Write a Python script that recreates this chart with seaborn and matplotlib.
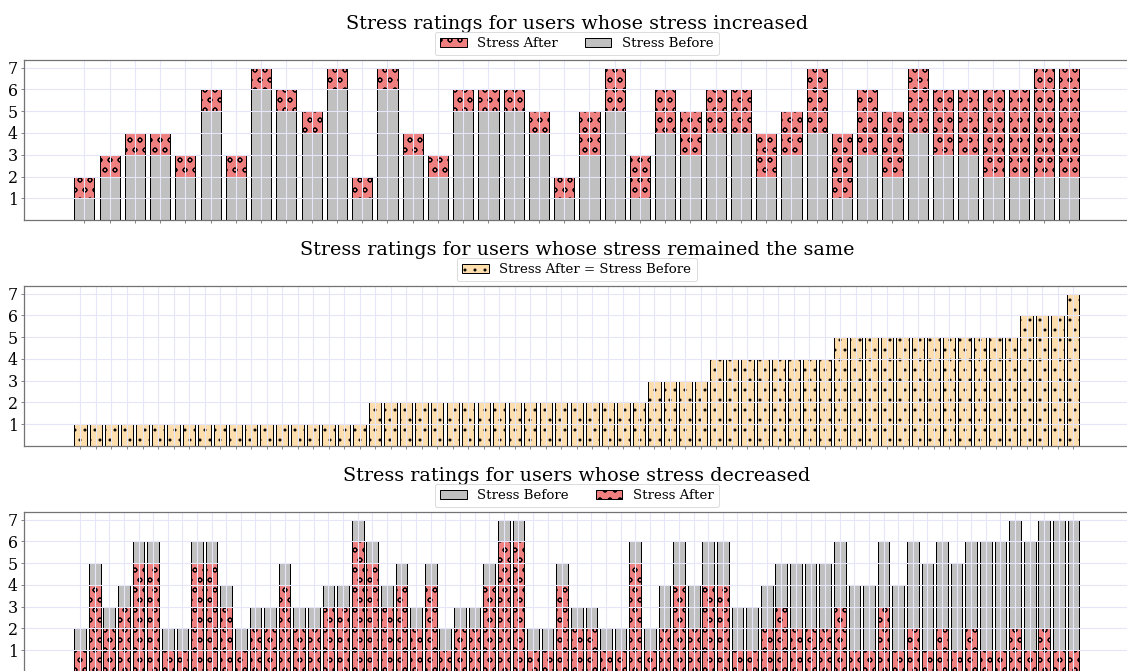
import numpy as np
import matplotlib
matplotlib.use("Agg")
import matplotlib.pyplot as plt
import seaborn as sns

plt.rcParams['font.family'] = 'serif'
plt.rcParams['hatch.linewidth'] = 1.2

# users whose stress increased
inc_before = [1, 2, 3, 3, 2, 5, 2, 6, 5, 4, 6, 1, 6, 3, 2, 5, 5, 5, 4, 1,
              3, 5, 1, 4, 3, 4, 4, 2, 3, 4, 1, 3, 2, 4, 3, 3, 2, 2, 2, 2]
inc_after = [2, 3, 4, 4, 3, 6, 3, 7, 6, 5, 7, 2, 7, 4, 3, 6, 6, 6, 5, 2,
             5, 7, 3, 6, 5, 6, 6, 4, 5, 7, 4, 6, 5, 7, 6, 6, 6, 6, 7, 7]

# users whose stress stayed the same
same_rating = [1, 1, 1, 1, 1, 1, 1, 1, 1, 1, 1, 1, 1, 1, 1, 1, 1, 1, 1,
               2, 2, 2, 2, 2, 2, 2, 2, 2, 2, 2, 2, 2, 2, 2, 2, 2, 2,
               3, 3, 3, 3,
               4, 4, 4, 4, 4, 4, 4, 4,
               5, 5, 5, 5, 5, 5, 5, 5, 5, 5, 5, 5,
               6, 6, 6,
               7]

# users whose stress decreased
dec_before = [2, 5, 3, 4, 6, 6, 2, 2, 6, 6, 4, 2, 3, 3, 5, 3, 3, 4, 4, 7,
              6, 4, 5, 3, 5, 2, 3, 3, 5, 7, 7, 2, 2, 5, 3, 3, 2, 2, 6, 2,
              4, 6, 4, 6, 6, 3, 3, 4, 5, 5, 5, 5, 6, 4, 4, 6, 4, 6, 5, 6,
              5, 6, 6, 6, 7, 6, 7, 7, 7]
dec_after = [1, 4, 2, 3, 5, 5, 1, 1, 5, 5, 3, 1, 2, 2, 4, 2, 2, 3, 3, 6,
             5, 3, 4, 2, 4, 1, 2, 2, 4, 6, 6, 1, 1, 4, 2, 2, 1, 1, 5, 1,
             2, 4, 2, 4, 4, 1, 1, 2, 3, 2, 2, 2, 3, 1, 1, 3, 1, 2, 1, 2,
             1, 2, 1, 1, 2, 1, 2, 1, 1]

fig = plt.figure(figsize=(1127 / 60, 671 / 60), dpi=60)
ax1 = fig.add_axes([0.0213, 0.672, 0.981, 0.2385])
ax2 = fig.add_axes([0.0213, 0.3353, 0.981, 0.2385])
ax3 = fig.add_axes([0.0213, -0.0015, 0.981, 0.2385])


def bars(ax, vals, color, label, hatch=None):
    sns.barplot(x=np.arange(len(vals)), y=vals, color=color, saturation=1,
                edgecolor='black', linewidth=1.2, hatch=hatch, label=label, ax=ax)


def finish(ax, title):
    ax.autoscale(enable=True, axis='x')
    ax.set_yticks(range(1, 8))
    ax.grid(True, color='lavender', linewidth=1.3)
    ax.tick_params(axis='x', labelbottom=False, length=4, color='0.3')
    ax.tick_params(axis='y', labelsize=19, length=4, color='0.3')
    ax.set_xlabel('')
    ax.set_ylabel('')
    for s in ax.spines.values():
        s.set_color('0.45')
        s.set_linewidth(1.5)
    ax.set_title(title, fontsize=23, pad=37)
    ax.legend(loc='lower center', bbox_to_anchor=(0.5, 1.0), ncol=2,
              fontsize=16, borderaxespad=0.35)


bars(ax1, inc_after, 'lightcoral', 'Stress After', 'o')
bars(ax1, inc_before, 'silver', 'Stress Before')
finish(ax1, 'Stress ratings for users whose stress increased')

bars(ax2, same_rating, 'navajowhite', 'Stress After = Stress Before', '.')
finish(ax2, 'Stress ratings for users whose stress remained the same')

bars(ax3, dec_before, 'silver', 'Stress Before')
bars(ax3, dec_after, 'lightcoral', 'Stress After', 'o')
finish(ax3, 'Stress ratings for users whose stress decreased')

fig.savefig('out.png', dpi=60)
